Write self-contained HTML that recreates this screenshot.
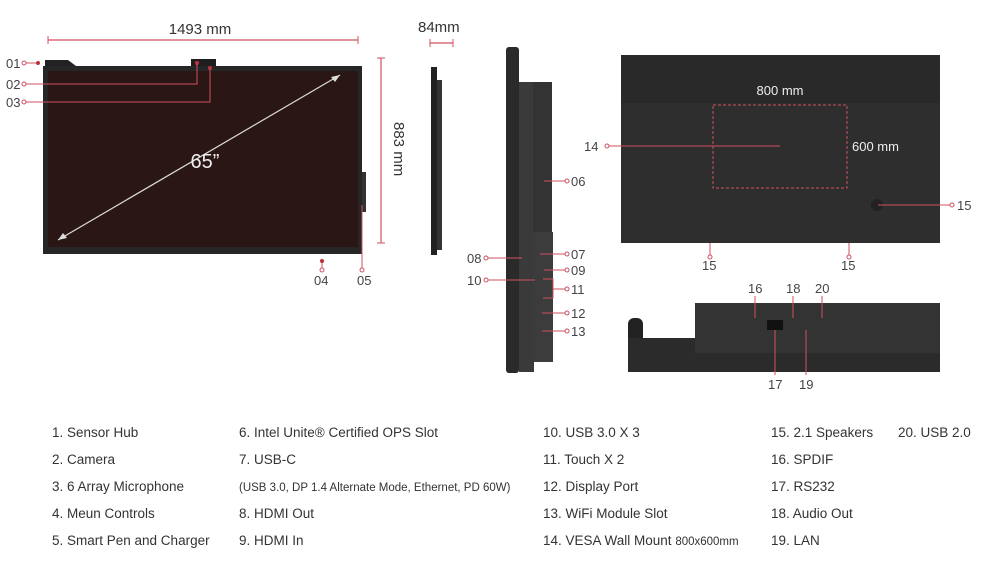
<!DOCTYPE html>
<html><head><meta charset="utf-8"><style>
body{margin:0;background:#fff}
svg{display:block}
text{font-family:"Liberation Sans",sans-serif;fill:#333}
.l{font-size:13.5px;fill:#333}
.n{font-size:13px;fill:#444}
</style></head><body>
<svg width="986" height="567" viewBox="0 0 986 567" xmlns="http://www.w3.org/2000/svg">
<!-- front -->
<text x="200" y="34" font-size="15" text-anchor="middle">1493 mm</text>
<line x1="48" y1="40" x2="358" y2="40" stroke="#d05060" stroke-width="1.2"/>
<line x1="48" y1="36" x2="48" y2="44" stroke="#d05060"/><line x1="358" y1="36" x2="358" y2="44" stroke="#d05060"/>
<path d="M45 60 H68 L76 66 H45Z" fill="#222"/>
<rect x="191" y="59" width="25" height="11" fill="#1e1e1e"/>
<rect x="43" y="66" width="319" height="188" fill="#262626"/>
<rect x="48" y="71" width="310" height="176" fill="#2a1614"/>
<line x1="58" y1="240" x2="340" y2="75" stroke="#ddd" stroke-width="1.2"/>
<path d="M58 240 l9 -2 l-4 -5z M340 75 l-9 2 l4 5z" fill="#ddd"/>
<text x="205" y="168" font-size="20" fill="#eee" text-anchor="middle" style="fill:#eee">65”</text>
<rect x="362" y="172" width="4" height="40" fill="#333"/>
<circle cx="38" cy="63" r="2" fill="#c0303a"/><circle cx="197" cy="63" r="2" fill="#c0303a"/><circle cx="210" cy="68" r="2" fill="#c0303a"/>
<g stroke="#d05060" fill="none" stroke-width="1">
<line x1="26" y1="63" x2="36" y2="63"/><path d="M26 84 H197 V64"/><path d="M26 102 H210 V69"/>
<line x1="322" y1="262" x2="322" y2="268"/><path d="M362 205 V268"/>
</g>
<g fill="#fff" stroke="#d05060"><circle cx="24" cy="63" r="2"/><circle cx="24" cy="84" r="2"/><circle cx="24" cy="102" r="2"/><circle cx="322" cy="270" r="2"/><circle cx="362" cy="270" r="2"/></g>
<circle cx="322" cy="261" r="2" fill="#c0303a"/>
<text x="6" y="68" class="n">01</text><text x="6" y="89" class="n">02</text><text x="6" y="107" class="n">03</text>
<text x="314" y="285" class="n">04</text><text x="357" y="285" class="n">05</text>
<line x1="381" y1="58" x2="381" y2="243" stroke="#d05060" stroke-width="1.2"/>
<line x1="377" y1="58" x2="385" y2="58" stroke="#d05060"/><line x1="377" y1="243" x2="385" y2="243" stroke="#d05060"/>
<text x="0" y="0" font-size="15" transform="translate(394,122) rotate(90)">883 mm</text>
<!-- small side -->
<text x="418" y="32" font-size="15">84mm</text>
<line x1="430" y1="43" x2="453" y2="43" stroke="#d05060" stroke-width="1.2"/>
<line x1="430" y1="39" x2="430" y2="47" stroke="#d05060"/><line x1="453" y1="39" x2="453" y2="47" stroke="#d05060"/>
<rect x="431" y="67" width="6" height="188" fill="#222"/><rect x="437" y="80" width="5" height="170" fill="#333"/>
<!-- large side -->
<rect x="506" y="47" width="13" height="326" rx="3" fill="#2a2a2a"/>
<rect x="519" y="82" width="15" height="290" fill="#3a3a3a"/>
<rect x="533" y="82" width="19" height="150" fill="#333"/>
<rect x="533" y="232" width="20" height="130" fill="#3c3c3c"/>
<g stroke="#d05060" fill="none">
<line x1="544" y1="181" x2="565" y2="181"/><line x1="540" y1="254" x2="565" y2="254"/><line x1="488" y1="258" x2="522" y2="258"/>
<line x1="544" y1="270" x2="565" y2="270"/><line x1="488" y1="280" x2="535" y2="280"/><path d="M543 279 H553 V298 H543 M553 289 H565"/>
<line x1="542" y1="313" x2="565" y2="313"/><line x1="542" y1="331" x2="565" y2="331"/>
</g>
<g fill="#fff" stroke="#d05060"><circle cx="567" cy="181" r="2"/><circle cx="567" cy="254" r="2"/><circle cx="486" cy="258" r="2"/><circle cx="567" cy="270" r="2"/><circle cx="486" cy="280" r="2"/><circle cx="567" cy="289" r="2"/><circle cx="567" cy="313" r="2"/><circle cx="567" cy="331" r="2"/></g>
<text x="571" y="186" class="n">06</text><text x="571" y="259" class="n">07</text><text x="467" y="263" class="n">08</text>
<text x="571" y="275" class="n">09</text><text x="467" y="285" class="n">10</text><text x="571" y="294" class="n">11</text>
<text x="571" y="318" class="n">12</text><text x="571" y="336" class="n">13</text>
<!-- back -->
<rect x="621" y="55" width="319" height="188" fill="#2e2e2e"/>
<rect x="621" y="55" width="319" height="48" fill="#292929"/>
<rect x="713" y="105" width="134" height="83" fill="none" stroke="#d05060" stroke-dasharray="3,2"/>
<text x="780" y="95" font-size="13" text-anchor="middle" style="fill:#eee">800  mm</text>
<text x="852" y="151" font-size="13" style="fill:#eee">600 mm</text>
<circle cx="877" cy="205" r="6" fill="#222"/>
<g stroke="#d05060" fill="none"><line x1="609" y1="146" x2="780" y2="146"/><line x1="878" y1="205" x2="950" y2="205"/><line x1="710" y1="243" x2="710" y2="255"/><line x1="849" y1="243" x2="849" y2="255"/></g>
<g fill="#fff" stroke="#d05060"><circle cx="607" cy="146" r="2"/><circle cx="952" cy="205" r="2"/><circle cx="710" cy="257" r="2"/><circle cx="849" cy="257" r="2"/></g>
<text x="584" y="151" class="n">14</text><text x="957" y="210" class="n">15</text><text x="702" y="270" class="n">15</text><text x="841" y="270" class="n">15</text>
<!-- bottom -->
<rect x="628" y="318" width="15" height="50" rx="6" fill="#222"/>
<rect x="628" y="338" width="312" height="34" fill="#2b2b2b"/>
<rect x="695" y="303" width="245" height="50" fill="#333"/>
<rect x="767" y="320" width="16" height="10" fill="#111"/>
<g stroke="#d05060" fill="none"><line x1="755" y1="296" x2="755" y2="318"/><line x1="793" y1="296" x2="793" y2="318"/><line x1="822" y1="296" x2="822" y2="318"/><line x1="775" y1="330" x2="775" y2="375"/><line x1="806" y1="330" x2="806" y2="375"/></g>
<text x="748" y="293" class="n">16</text><text x="786" y="293" class="n">18</text><text x="815" y="293" class="n">20</text>
<text x="768" y="389" class="n">17</text><text x="799" y="389" class="n">19</text>
<!-- legend -->
<g class="l">
<text x="52" y="437" class="l">1. Sensor Hub</text><text x="52" y="464" class="l">2. Camera</text><text x="52" y="491" class="l">3. 6 Array Microphone</text><text x="52" y="518" class="l">4. Meun Controls</text><text x="52" y="545" class="l">5. Smart Pen and Charger</text>
<text x="239" y="437" class="l">6. Intel Unite® Certified OPS Slot</text><text x="239" y="464" class="l">7. USB-C</text><text x="239" y="491" font-size="11.5">(USB 3.0, DP 1.4 Alternate Mode, Ethernet, PD 60W)</text><text x="239" y="518" class="l">8. HDMI Out</text><text x="239" y="545" class="l">9. HDMI In</text>
<text x="543" y="437" class="l">10. USB 3.0 X 3</text><text x="543" y="464" class="l">11. Touch X 2</text><text x="543" y="491" class="l">12. Display Port</text><text x="543" y="518" class="l">13. WiFi Module Slot</text><text x="543" y="545" class="l">14. VESA Wall Mount <tspan font-size="11.5">800x600mm</tspan></text>
<text x="771" y="437" class="l">15. 2.1 Speakers</text><text x="771" y="464" class="l">16. SPDIF</text><text x="771" y="491" class="l">17. RS232</text><text x="771" y="518" class="l">18. Audio Out</text><text x="771" y="545" class="l">19. LAN</text>
<text x="898" y="437" class="l">20. USB 2.0</text>
</g>
</svg>
</body></html>
